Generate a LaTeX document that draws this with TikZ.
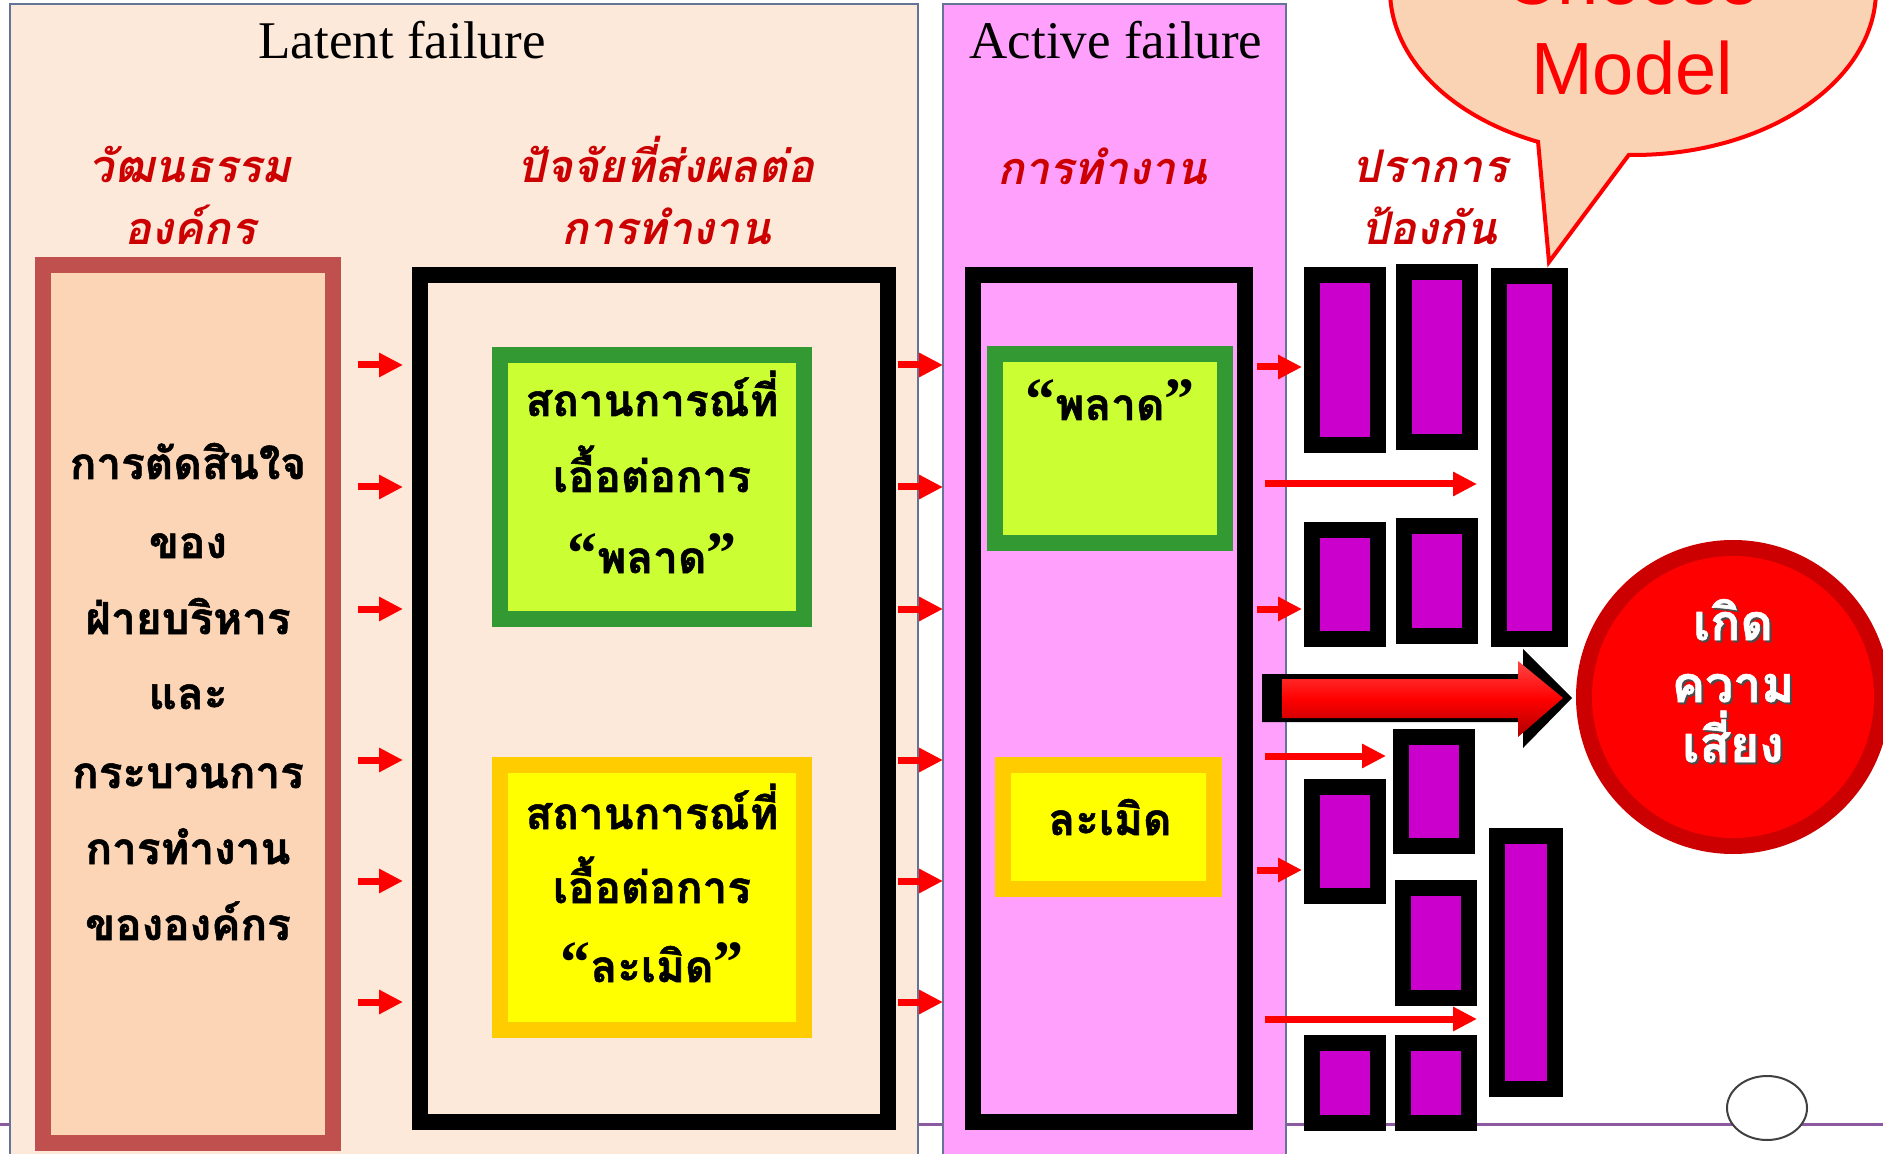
\documentclass[tikz,border=0pt]{standalone}
\usepackage{fontspec}
\setmainfont{Liberation Serif}
\newfontfamily\thaifont[Script=Thai, BoldFeatures={FakeBold=1.2}]{Loma}
\newfontfamily\arialfont{Liberation Sans}
\newfontfamily\qfont{Liberation Serif}
\newcommand\myLQ{{\qfont\bfseries\fontsize{30}{30}\selectfont “}}
\newcommand\myRQ{{\qfont\bfseries\fontsize{30}{30}\selectfont ”}}
\usetikzlibrary{arrows.meta,calc}
\definecolor{latentbg}{RGB}{253,233,218}
\definecolor{panelline}{RGB}{100,115,150}
\definecolor{activebg}{RGB}{255,161,252}
\definecolor{cultborder}{RGB}{192,80,77}
\definecolor{cultfill}{RGB}{251,213,181}
\definecolor{greenborder}{RGB}{51,153,51}
\definecolor{greenfill}{RGB}{204,255,51}
\definecolor{yelborder}{RGB}{255,204,0}
\definecolor{yelfill}{RGB}{255,255,0}
\definecolor{barfill}{RGB}{204,0,204}
\definecolor{headred}{RGB}{204,0,0}
\definecolor{bubblefill}{RGB}{250,211,180}
\definecolor{ringred}{RGB}{204,0,0}
\definecolor{slideline}{RGB}{140,90,160}
\newcommand\twobox[6]{\fill[#5] (#1,#2) rectangle (#3,#4); \fill[#6] (#1+16,#2+16) rectangle (#3-16,#4-16);}
\tikzset{
  arr/.style={draw=red, line width=3.5pt, -{Triangle[length=12pt,width=11.5pt]}},
  titletxt/.style={anchor=base, font=\fontsize{26.5}{30}\selectfont, text=black, inner sep=0},
  headtxt/.style={anchor=base, font=\thaifont\bfseries\itshape\fontsize{22.5}{26}\selectfont, text=headred, inner sep=0},
  bodytxt/.style={anchor=base, font=\thaifont\bfseries\fontsize{22}{26}\selectfont, text=black, inner sep=0},
  risktxt/.style={anchor=base, font=\thaifont\bfseries\fontsize{25}{28}\selectfont, text=white, inner sep=0},
  bubtxt/.style={anchor=base, font=\arialfont\fontsize{37}{40}\selectfont, text=red, inner sep=0}
}
\begin{document}
\begin{tikzpicture}[x=0.5pt,y=-0.5pt]
\useasboundingbox (0,0) rectangle (1883,1154);
\clip (0,0) rectangle (1883,1154);
\fill[white] (0,0) rectangle (1883,1154);
% slide line
\draw[slideline, line width=1.5pt] (0,1124) -- (1883,1124);
% panels
\filldraw[fill=latentbg, draw=panelline, line width=0.8pt] (10,4) rectangle (918,1170);
\filldraw[fill=activebg, draw=panelline, line width=0.8pt] (943,4) rectangle (1286,1170);
% titles
\node[titletxt] (latent) at (402,59) {Latent failure};
\node[titletxt] (active) at (1116,59) {Active failure};
% red headings
\node[headtxt] (h1a) at (190,183) {วัฒนธรรม};
\node[headtxt] (h1b) at (190,245) {องค์กร};
\node[headtxt] (h2a) at (666,183) {ปัจจัยที่ส่งผลต่อ};
\node[headtxt] (h2b) at (666,245) {การทำงาน};
\node[headtxt] (h3a) at (1102,185) {การทำงาน};
\node[headtxt] (h4a) at (1430,183) {ปราการ};
\node[headtxt] (h4b) at (1429,245) {ป้องกัน};
% culture box
\twobox{35}{257}{341}{1151}{cultborder}{cultfill}
\node[bodytxt] (c1) at (188,479) {การตัดสินใจ};
\node[bodytxt] (c2) at (188,558) {ของ};
\node[bodytxt] (c3) at (188,634) {ฝ่ายบริหาร};
\node[bodytxt] (c4) at (188,709) {และ};
\node[bodytxt] (c5) at (188,788) {กระบวนการ};
\node[bodytxt] (c6) at (188,864) {การทำงาน};
\node[bodytxt] (c7) at (188,940) {ขององค์กร};
% middle frame
\twobox{412}{267}{896}{1130}{black}{latentbg}
\twobox{492}{347}{812}{627}{greenborder}{greenfill}
\node[bodytxt] (g1) at (652,416) {สถานการณ์ที่};
\node[bodytxt] (g2) at (652,492) {เอื้อต่อการ};
\node[bodytxt] (g3) at (652,573) {\myLQ พลาด\myRQ};
\twobox{492}{757}{812}{1038}{yelborder}{yelfill}
\node[bodytxt] (y1) at (652,829) {สถานการณ์ที่};
\node[bodytxt] (y2) at (652,903) {เอื้อต่อการ};
\node[bodytxt] (y3) at (652,982) {\myLQ ละเมิด\myRQ};
% active frame
\twobox{965}{267}{1253}{1130}{black}{activebg}
\twobox{987}{346}{1233}{551}{greenborder}{greenfill}
\node[bodytxt] (ag) at (1110,420) {\myLQ พลาด\myRQ};
\twobox{995}{757}{1222}{897}{yelborder}{yelfill}
\node[bodytxt] (ay) at (1110,835) {ละเมิด};
% arrows latent -> middle -> active
\foreach \y [count=\i] in {365,487,609,760,881,1002}{
  \coordinate (las\i) at (358,\y); \coordinate (lae\i) at (403,\y);
  \coordinate (mas\i) at (898,\y); \coordinate (mae\i) at (943,\y);
  \draw[arr] (las\i) -- (lae\i);
  \draw[arr] (mas\i) -- (mae\i);
}
% barriers
\twobox{1304}{267}{1386}{453}{black}{barfill}
\twobox{1396}{264}{1478}{450}{black}{barfill}
\twobox{1491}{268}{1568}{647}{black}{barfill}
\twobox{1304}{522}{1386}{647}{black}{barfill}
\twobox{1396}{518}{1478}{644}{black}{barfill}
\twobox{1393}{729}{1475}{854}{black}{barfill}
\twobox{1304}{779}{1386}{904}{black}{barfill}
\twobox{1395}{880}{1477}{1006}{black}{barfill}
\twobox{1489}{828}{1563}{1097}{black}{barfill}
\twobox{1304}{1035}{1386}{1131}{black}{barfill}
\twobox{1395}{1035}{1477}{1131}{black}{barfill}
% barrier arrows
\coordinate (r1s) at (1257,367); \coordinate (r1e) at (1302,367);
\coordinate (r2s) at (1265,484); \coordinate (r2e) at (1477,484);
\coordinate (r3s) at (1257,609); \coordinate (r3e) at (1302,609);
\coordinate (r4s) at (1265,756); \coordinate (r4e) at (1386,756);
\coordinate (r5s) at (1257,870); \coordinate (r5e) at (1302,870);
\coordinate (r6s) at (1265,1019); \coordinate (r6e) at (1477,1019);
\foreach \i in {1,...,6}{\draw[arr] (r\i s) -- (r\i e);}
% big arrow
\fill[black] (1262,674) -- (1523,674) -- (1523,649) -- (1572,698) -- (1523,748) -- (1523,722) -- (1262,722) -- cycle;
\shade[top color={rgb,255:red,255;green,70;blue,70}, bottom color={rgb,255:red,175;green,0;blue,0}, middle color=red]
  (1282,679) -- (1518,679) -- (1518,661) -- (1563,698) -- (1518,737) -- (1518,718) -- (1282,718) -- cycle;
% risk circle
\fill[ringred] (1733,697) circle (157);
\fill[red] (1733,697) circle (141);
\node[risktxt, text=black!70] (k1s) at (1735,642) {เกิด};
\node[risktxt, text=black!70] (k2s) at (1735,704) {ความ};
\node[risktxt, text=black!70] (k3s) at (1735,764) {เสี่ยง};
\node[risktxt] (k1) at (1733,640) {เกิด};
\node[risktxt] (k2) at (1733,702) {ความ};
\node[risktxt] (k3) at (1733,762) {เสี่ยง};
% speech bubble
\filldraw[fill=bubblefill, draw=red, line width=2pt, miter limit=20]
  ($(1633,-10)+(113:243 and 165)$) -- (1549,262) -- ($(1633,-10)+(91:243 and 165)$)
  arc[start angle=91, end angle=-247, x radius=243, y radius=165] -- cycle;
\node[bubtxt] (cheese) at (1632,5) {Cheese};
\node[bubtxt] (model) at (1632,95) {Model};
% small ellipse
\filldraw[fill=white, draw=black!75, line width=1pt] (1767,1108) ellipse (40 and 32);
\end{tikzpicture}
\end{document}
